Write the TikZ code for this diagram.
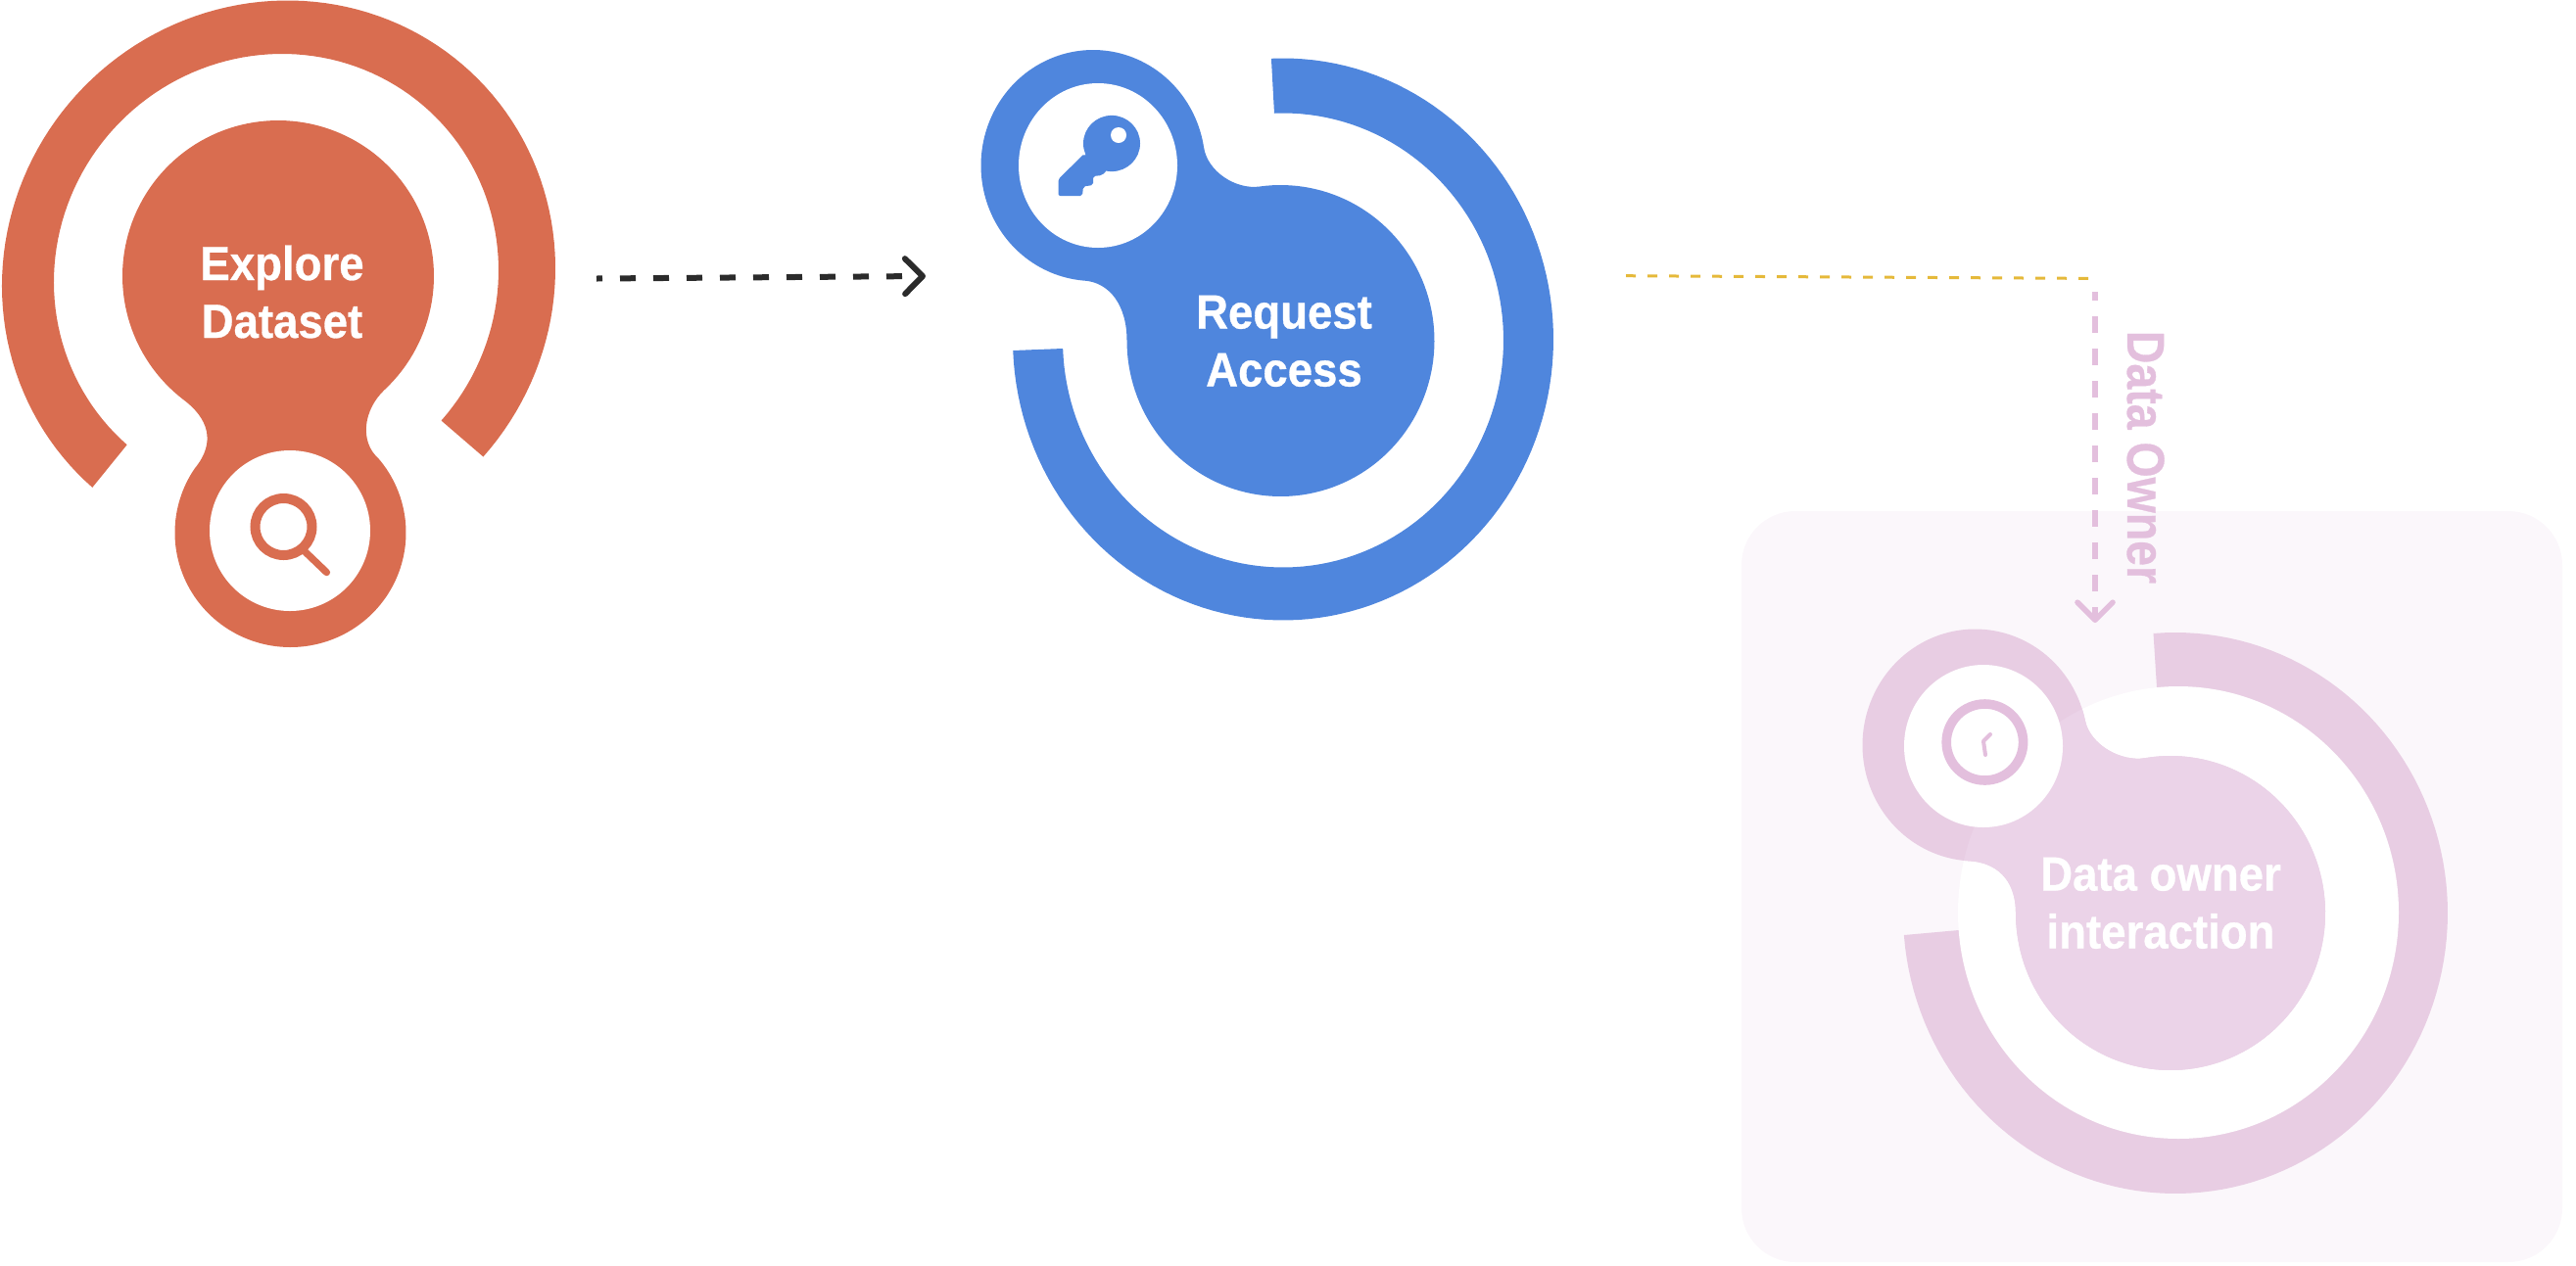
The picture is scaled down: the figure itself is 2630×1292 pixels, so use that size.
\documentclass[tikz,border=0pt]{standalone}
\usepackage{fontspec}
\usetikzlibrary{arrows.meta}
\newfontfamily\lab[FakeStretch=0.93,FakeBold=0.6]{Liberation Sans}
\definecolor{orangeC}{HTML}{D96D50}
\definecolor{blueC}{HTML}{4F86DD}
\definecolor{pinkA}{HTML}{E8CDE3}
\definecolor{pinkB}{HTML}{EBD3E8}
\definecolor{pinkL}{HTML}{E3BFDD}
\definecolor{panelC}{HTML}{FBF7FB}
\definecolor{inkC}{HTML}{2B2B2B}
\definecolor{goldC}{HTML}{E5B93A}
\tikzset{
  earc/.style n args={6}{insert path={-- plot[domain=#5:#6,samples=120,variable=\t] ({#1+#3*cos(\t)},{#2+#4*sin(\t)})}},
  tarc/.style n args={6}{insert path={-- plot[domain=#5:#6,samples=120,variable=\t] ({#1+0.7071*(#3*cos(\t)-#4*sin(\t))},{#2+0.7071*(#3*cos(\t)+#4*sin(\t))})}},
  label text/.style={text=white,font=\lab\bfseries\fontsize{24.5}{29.5}\selectfont,align=center,inner sep=0pt,anchor=base},
  conn black/.style={draw=inkC,line width=3pt,dash pattern=on 8pt off 9pt,dash phase=5pt,-{Straight Barb[length=9pt,width=18pt,round]}},
  conn gold/.style={draw=goldC,line width=1.5pt,dash pattern=on 5pt off 6pt},
  conn pink/.style={draw=pinkL,line width=2.8pt,dash pattern=on 8.5pt off 8pt,dash phase=4pt,-{Straight Barb[length=9pt,width=18pt,round]}},
  pink blob/.style={insert path={(2010.5,879.3)},earc={2016.5}{761}{115}{118.5}{93}{347.9},
    insert path={.. controls (2134,760.7) and (2165.5,778.4) .. (2190.2,774.2)},
    earc={2216}{932.5}{158}{160.5}{-99.4}{180},
    insert path={.. controls (2058,897) and (2037,880.7) .. (2010.5,879.3) -- cycle}},
}
\begin{document}
\begin{tikzpicture}[x=0.5pt,y=-0.5pt]
\useasboundingbox (0,0) rectangle (2630,1292);
% panel
\fill[panelC,rounded corners=27.5pt] (1778,522) rectangle (2616,1289);

% orange
\fill[orangeC] (493.4,466.5) [tarc={284.5}{283}{278}{287}{-3.6}{-273.6}]
  [tarc={282}{282}{224}{230}{-273.6}{-3.7}] -- cycle;
\fill[orangeC] (187.9,408.6) .. controls (212,427) and (221,451) .. (199.3,477.8)
  [earc={296.5}{544}{118}{117}{214.5}{-40.4}]
  .. controls (366.9,451) and (370.9,418.4) .. (392.8,397.9)
  [earc={284}{282}{159}{159}{46.8}{-232.8}] -- cycle;
\fill[white] (296,542) ellipse [x radius=41pt,y radius=41pt];
\draw[orangeC,line width=5pt] (289.5,538) ellipse [x radius=14.5pt,y radius=14.5pt];
\draw[orangeC,line width=3.6pt,line cap=round] (312,564) -- (333.5,584.6);

% blue
\fill[blueC] (1298,61) [earc={1310}{346.5}{276}{287}{-92.5}{177.7}] -- (1034,358) -- (1085,356)
  [earc={1310}{347.5}{225}{232}{177.9}{-92.3}] -- (1301,116) -- cycle;
\fill[blueC] (1106,286.5) [earc={1116}{169}{114.5}{118}{95}{351}]
  .. controls (1232.8,175) and (1261.4,193.9) .. (1286.2,190.5)
  [earc={1307.5}{348}{157}{159}{-97.8}{180}]
  .. controls (1150.5,312) and (1133,288) .. (1106,286.5) -- cycle;
\fill[white] (1121,169) ellipse [x radius=40.5pt,y radius=42pt];
\fill[blueC] (1135,146.5) ellipse [x radius=14.5pt,y radius=14.3pt];
\fill[blueC,rounded corners=1pt] (1107,157) -- (1080.5,183) -- (1080.5,200) -- (1105,200) -- (1106,190.5) -- (1116,189) -- (1116,180) -- (1125,179) -- (1130,174) -- cycle;
\fill[white] (1142,138) ellipse [x radius=4pt,y radius=4pt];

% pink
\fill[pinkA] (2198.5,646.6) [earc={2221}{932.5}{278}{286.5}{-94.5}{175.3}] -- (1944,955) -- (2000,950) -- (2202,702) -- cycle;
\fill[white] (2224,932) ellipse [x radius=112.5pt,y radius=115.5pt];
\fill[pinkA,pink blob];
\begin{scope}
\clip (2224,932) ellipse [x radius=112.5pt,y radius=115.5pt];
\fill[pinkB,pink blob];
\end{scope}
\fill[white] (2025,762) ellipse [x radius=40.5pt,y radius=41.5pt];
\draw[pinkL,line width=4.8pt] (2026.4,758) ellipse [x radius=19.6pt,y radius=19.5pt];
\draw[pinkL,line width=2pt,line cap=round,line join=round] (2032,750) -- (2025,757) -- (2027,771);

% labels
\node[label text] (explore) at (288,345) {Explore\\Dataset};
\node[label text] (request) at (1311,394.5) {Request\\Access};
\node[label text] (owner) at (2206,968.5) {Data owner\\interaction};
\node[label text,text=pinkL,rotate=-90] (ownerlabel) at (2172,467) {\fontsize{25}{30}\selectfont\scalebox{1}[1.08]{Data Owner}};

% connectors
\coordinate (a1) at (609,284.5);
\coordinate (a2) at (945,282);
\coordinate (g1) at (1660,281.7);
\coordinate (g2) at (2137,284.4);
\coordinate (p1) at (2139,298);
\coordinate (p2) at (2139,636);
\draw[conn black] (a1) -- (a2);
\draw[conn gold] (g1) -- (g2);
\draw[conn pink] (p1) -- (p2);
\end{tikzpicture}
\end{document}
